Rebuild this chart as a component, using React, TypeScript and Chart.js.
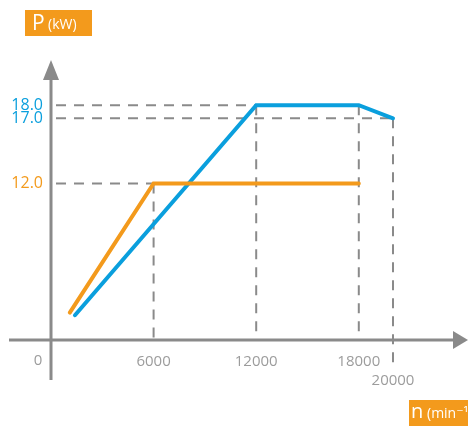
import React, { useEffect, useRef } from "react";
import { Chart, registerables } from "chart.js";

Chart.register(...registerables);

// Data
const orangeX = [1100, 6000, 18000];
const orangeY = [2.1, 12, 12];
const blueX = [1400, 12000, 18000, 20000];
const blueY = [1.9, 18, 18, 17];

// Axis tick labels
const xTickValues = [6000, 12000, 18000, 20000];
const xTickLabels = ["6000", "12000", "18000", "20000"];
const yTickValues = [18, 17, 12];
const yTickLabels = ["18.0", "17.0", "12.0"];

// Guide lines: horizontal guide from axis to x, vertical guide from y down to axis
const hGuideY = [18, 17, 12];
const hGuideToX = [12000, 20000, 6000];
const vGuideX = [6000, 12000, 18000, 20000];
const vGuideFromY = [12, 18, 18, 17];

const ORANGE = "#F39A1C";
const BLUE = "#0A9FDD";
const GREY = "#8A8A8A";
const LABEL_GREY = "#9C9C9C";
const FONT = "'Open Sans', 'DejaVu Sans', sans-serif";

const decorPlugin = {
  id: "decor",
  beforeDatasetsDraw(chart: any) {
    const ctx = chart.ctx;
    const xs = chart.scales.x;
    const ys = chart.scales.y;
    const x0 = xs.getPixelForValue(0);
    const y0 = ys.getPixelForValue(0);
    ctx.save();

    // dashed guides
    ctx.strokeStyle = GREY;
    ctx.lineWidth = 2;
    ctx.setLineDash([10, 8]);
    for (let i = 0; i < hGuideY.length; i++) {
      const py = ys.getPixelForValue(hGuideY[i]);
      ctx.beginPath();
      ctx.moveTo(x0 + 5, py);
      ctx.lineTo(xs.getPixelForValue(hGuideToX[i]), py);
      ctx.stroke();
    }
    for (let i = 0; i < vGuideX.length; i++) {
      const px = xs.getPixelForValue(vGuideX[i]);
      const bottom = vGuideX[i] === 20000 ? y0 + 25 : y0;
      ctx.beginPath();
      ctx.moveTo(px, ys.getPixelForValue(vGuideFromY[i]));
      ctx.lineTo(px, bottom);
      ctx.stroke();
    }
    ctx.setLineDash([]);

    // axes
    ctx.strokeStyle = GREY;
    ctx.fillStyle = GREY;
    ctx.lineWidth = 3;
    ctx.beginPath();
    ctx.moveTo(x0, y0 + 40);
    ctx.lineTo(x0, 78);
    ctx.stroke();
    ctx.beginPath();
    ctx.moveTo(9, y0);
    ctx.lineTo(455, y0);
    ctx.stroke();
    // arrows
    ctx.beginPath();
    ctx.moveTo(x0, 60);
    ctx.lineTo(x0 - 8, 80);
    ctx.lineTo(x0 + 8, 80);
    ctx.closePath();
    ctx.fill();
    ctx.beginPath();
    ctx.moveTo(468, y0);
    ctx.lineTo(453, y0 - 9);
    ctx.lineTo(453, y0 + 9);
    ctx.closePath();
    ctx.fill();

    // x tick labels
    ctx.font = `15px ${FONT}`;
    ctx.fillStyle = LABEL_GREY;
    ctx.textAlign = "center";
    ctx.textBaseline = "middle";
    ctx.fillText("0", x0 - 13, y0 + 21);
    for (let i = 0; i < xTickValues.length; i++) {
      const px = xs.getPixelForValue(xTickValues[i]);
      const dy = xTickValues[i] === 20000 ? 41 : 22;
      ctx.fillText(xTickLabels[i], px, y0 + dy);
    }

    // y tick labels
    ctx.font = `16px ${FONT}`;
    ctx.textAlign = "right";
    for (let i = 0; i < yTickValues.length; i++) {
      ctx.fillStyle = yTickValues[i] === 12 ? ORANGE : BLUE;
      ctx.fillText(yTickLabels[i], x0 - 8, ys.getPixelForValue(yTickValues[i]));
    }

    // title boxes
    ctx.fillStyle = ORANGE;
    ctx.fillRect(25, 10, 67, 26);
    ctx.fillRect(409, 400, 59, 26);
    ctx.fillStyle = "#FFFFFF";
    ctx.textAlign = "left";
    ctx.textBaseline = "alphabetic";
    ctx.font = `21px ${FONT}`;
    ctx.fillText("P", 32, 30);
    ctx.font = `14px ${FONT}`;
    ctx.fillText("(kW)", 48, 29);
    ctx.font = `20px ${FONT}`;
    ctx.fillText("n", 411, 418);
    ctx.font = `14px ${FONT}`;
    ctx.fillText("(min\u207B\u00B9)", 427, 418);

    ctx.restore();
  },
};

export default function App() {
  const ref = useRef<HTMLCanvasElement>(null);
  useEffect(() => {
    document.body.style.margin = "0";
    const chart = new Chart(ref.current as HTMLCanvasElement, {
      type: "scatter",
      data: {
        datasets: [
          {
            data: orangeX.map((x, i) => ({ x, y: orangeY[i] })),
            borderColor: ORANGE,
            backgroundColor: ORANGE,
            borderWidth: 4,
            showLine: true,
            pointRadius: 0,
            borderCapStyle: "round",
            borderJoinStyle: "miter",
            clip: false,
          } as any,
          {
            data: blueX.map((x, i) => ({ x, y: blueY[i] })),
            borderColor: BLUE,
            backgroundColor: BLUE,
            borderWidth: 4,
            showLine: true,
            pointRadius: 0,
            borderCapStyle: "round",
            borderJoinStyle: "miter",
            clip: false,
          } as any,
        ],
      },
      options: {
        animation: false,
        responsive: false,
        devicePixelRatio: 1,
        layout: { padding: { left: 51, right: 6.6, top: 27, bottom: 86 } },
        plugins: { legend: { display: false }, tooltip: { enabled: false } },
        scales: {
          x: { type: "linear", min: 0, max: 24000, display: false },
          y: { type: "linear", min: 0, max: 24, display: false },
        },
      },
      plugins: [decorPlugin],
    });
    return () => chart.destroy();
  }, []);
  return (
    <div style={{ position: "fixed", left: 0, top: 0, width: 468, height: 426 }}>
      <canvas ref={ref} width={468} height={426} />
    </div>
  );
}
